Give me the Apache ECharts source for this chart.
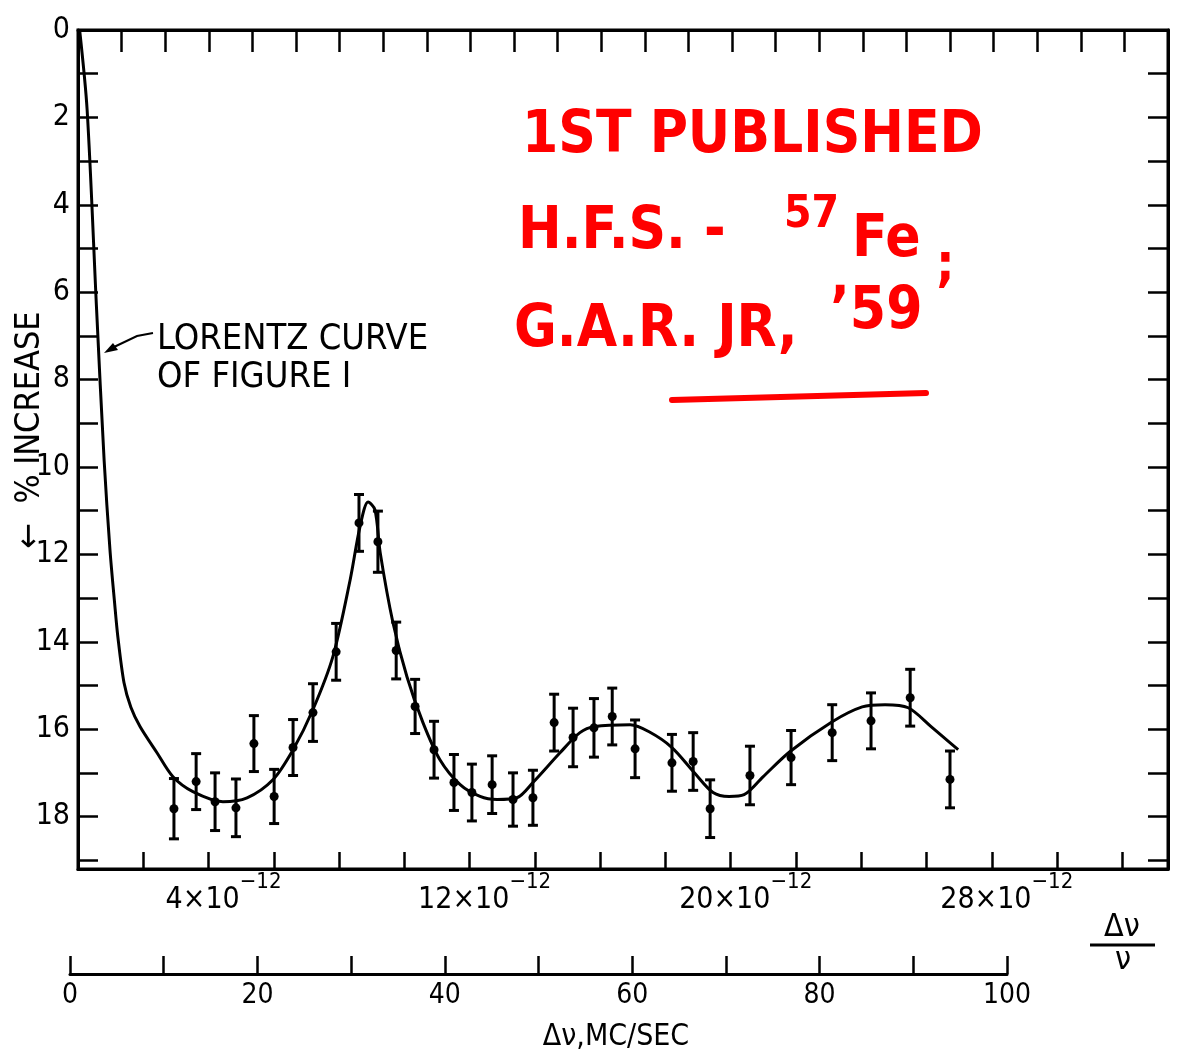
<!DOCTYPE html>
<html lang="en">
<head>
<meta charset="UTF-8">
<title>57Fe hyperfine structure</title>
<style>
  html, body { margin: 0; padding: 0; background: #fff; }
  #main { width: 1178px; height: 1057px; }
</style>
</head>
<body>
<div id="main"></div>

<script src="https://cdn.jsdelivr.net/npm/echarts@6/dist/echarts.min.js"></script>

<script>
// measured points, x in units of 10^-12 (delta nu / nu), y in % increase
var errX = [2.94, 3.62, 4.20, 4.84, 5.39, 6.01, 6.59, 7.20, 7.91, 8.61, 9.19, 9.75, 10.33, 10.91, 11.52, 12.07, 12.69,
            13.33, 13.94, 14.59, 15.17, 15.81, 16.37, 17.07, 18.20, 18.85, 19.37, 20.59, 21.85, 23.11, 24.30, 25.50, 26.72];
var errY = [17.82, 17.20, 17.66, 17.80, 16.33, 17.54, 16.42, 15.62, 14.23, 11.28, 11.71, 14.20, 15.48, 16.47, 17.22, 17.45, 17.27,
            17.61, 17.57, 15.85, 16.19, 15.97, 15.71, 16.45, 16.77, 16.74, 17.82, 17.06, 16.65, 16.08, 15.81, 15.28, 17.15];
var errHalf = [0.69, 0.64, 0.66, 0.66, 0.64, 0.62, 0.64, 0.66, 0.65, 0.65, 0.70, 0.65, 0.62, 0.65, 0.64, 0.65, 0.66,
               0.61, 0.63, 0.65, 0.67, 0.67, 0.65, 0.66, 0.65, 0.66, 0.66, 0.67, 0.62, 0.64, 0.64, 0.65, 0.65];

// fitted curve
var curveX = [0.05, 0.28, 0.57, 0.80, 0.98, 1.12, 1.22, 1.41, 1.62, 1.90, 2.42, 2.91, 3.52, 4.44, 5.18, 5.98, 6.59, 7.20, 7.81,
              8.34, 8.64, 8.89, 9.10, 9.26, 9.65, 10.08, 10.57, 11.09, 11.71, 12.32, 12.84, 13.45, 13.94, 14.77, 15.38,
              15.84, 16.92, 17.50, 18.20, 18.88, 19.46, 19.95, 20.41, 20.99, 21.82, 23.11, 24.03, 24.73, 25.44, 26.14, 26.97];
var curveY = [0.00, 1.83, 6.40, 9.84, 11.90, 13.10, 13.88, 14.94, 15.50, 15.94, 16.54, 17.09, 17.43, 17.66, 17.57, 17.15, 16.47, 15.55, 14.34,
              12.58, 11.37, 10.80, 10.98, 11.96, 13.56, 14.80, 15.85, 16.70, 17.27, 17.54, 17.61, 17.57, 17.22, 16.54, 16.08,
              15.94, 15.90, 16.06, 16.42, 16.99, 17.45, 17.54, 17.50, 17.09, 16.51, 15.83, 15.49, 15.44, 15.51, 15.94, 16.47];

var ratioLabels = [4, 12, 20, 28];      // labelled ticks on the delta nu / nu axis
var mcLabels = [0, 20, 40, 60, 80, 100]; // labelled ticks on the MC/SEC axis

var FONT = "'DejaVu Sans Condensed', 'DejaVu Sans', sans-serif";
var RED = '#ff0000';

var errData = errX.map(function (x, i) { return [x, errY[i], errHalf[i]]; });
var curveData = curveX.map(function (x, i) { return [x, curveY[i]]; });

function renderErrorBar(params, api) {
    var x = api.value(0), y = api.value(1), e = api.value(2);
    var p = api.coord([x, y]);
    var top = api.coord([x, y - e]);
    var bot = api.coord([x, y + e]);
    var cap = 5;
    var st = { stroke: '#000', lineWidth: 3 };
    return {
        type: 'group',
        children: [
            { type: 'line', shape: { x1: p[0], y1: top[1], x2: p[0], y2: bot[1] }, style: st },
            { type: 'line', shape: { x1: p[0] - cap, y1: top[1], x2: p[0] + cap, y2: top[1] }, style: st },
            { type: 'line', shape: { x1: p[0] - cap, y1: bot[1], x2: p[0] + cap, y2: bot[1] }, style: st },
            { type: 'circle', shape: { cx: p[0], cy: p[1], r: 4.5 }, style: { fill: '#000' } }
        ]
    };
}

var axisLine = { show: true, onZero: false, lineStyle: { color: '#000', width: 3 } };

var myChart = echarts.init(document.getElementById('main'));

myChart.setOption({
    animation: false,
    backgroundColor: '#fff',
    grid: [
        { left: 78, top: 30, width: 1090, height: 839, show: true, borderColor: '#000', borderWidth: 3, backgroundColor: 'transparent' },
        { left: 70, top: 973, width: 937, height: 1 }
    ],
    xAxis: [
        {
            gridIndex: 0, type: 'value', position: 'bottom', min: 0, max: 33.4, interval: 2,
            axisLine: axisLine,
            axisTick: { inside: true, length: 17, lineStyle: { color: '#000', width: 2.5 } },
            splitLine: { show: false },
            axisLabel: {
                margin: 2,
                padding: [0, 0, 0, 30],
                formatter: function (v) {
                    return ratioLabels.indexOf(v) >= 0 ? '{b|' + v + '×10}{s|−12}' : '';
                },
                rich: {
                    b: { fontFamily: FONT, fontSize: 30, color: '#000', lineHeight: 44, verticalAlign: 'bottom' },
                    s: { fontFamily: FONT, fontSize: 22, color: '#000', lineHeight: 44, verticalAlign: 'top' }
                }
            }
        },
        {
            gridIndex: 0, type: 'value', position: 'top', min: 0, max: 25, interval: 1,
            axisLine: axisLine,
            axisTick: { inside: true, length: 22, lineStyle: { color: '#000', width: 2.5 } },
            splitLine: { show: false },
            axisLabel: { show: false }
        },
        {
            gridIndex: 1, type: 'value', position: 'bottom', min: 0, max: 100, interval: 10,
            axisLine: axisLine,
            axisTick: { inside: true, length: 18, lineStyle: { color: '#000', width: 2.5 } },
            splitLine: { show: false },
            axisLabel: {
                margin: 8, fontFamily: FONT, fontSize: 28, color: '#000',
                formatter: function (v) { return mcLabels.indexOf(v) >= 0 ? String(v) : ''; }
            }
        }
    ],
    yAxis: [
        {
            gridIndex: 0, type: 'value', inverse: true, position: 'left', min: 0, max: 19.2, interval: 1,
            axisLine: axisLine,
            axisTick: { inside: true, length: 20, lineStyle: { color: '#000', width: 2.5 } },
            splitLine: { show: false },
            axisLabel: {
                margin: 8, fontFamily: FONT, fontSize: 30, color: '#000',
                formatter: function (v) { return (v % 2 === 0 && v <= 18) ? String(v) : ''; }
            }
        },
        {
            gridIndex: 0, type: 'value', inverse: true, position: 'right', min: 0, max: 19.2, interval: 1,
            axisLine: axisLine,
            axisTick: { inside: true, length: 20, lineStyle: { color: '#000', width: 2.5 } },
            splitLine: { show: false },
            axisLabel: { show: false }
        },
        { gridIndex: 1, type: 'value', show: false, min: 0, max: 1 }
    ],
    series: [
        {
            name: 'Lorentz fit', type: 'line', xAxisIndex: 0, yAxisIndex: 0,
            data: curveData, showSymbol: false, smooth: 0.3,
            lineStyle: { color: '#000', width: 3 }, z: 3
        },
        {
            name: 'measured', type: 'custom', xAxisIndex: 0, yAxisIndex: 0,
            renderItem: renderErrorBar, data: errData, encode: { x: 0, y: 1 }, z: 4
        }
    ],
    graphic: [
        { type: 'text', x: 30, y: 430, rotation: Math.PI / 2,
          style: { text: '←  % INCREASE', font: '34px ' + FONT, fill: '#000', align: 'center', verticalAlign: 'middle' } },
        { type: 'text', x: 157, y: 321,
          style: { text: 'LORENTZ CURVE\nOF FIGURE I', font: '36px ' + FONT, lineHeight: 38, fill: '#000' } },
        { type: 'polyline', shape: { points: [[153, 333], [137, 336], [114, 347]] },
          style: { stroke: '#000', lineWidth: 2, fill: null } },
        { type: 'polygon', shape: { points: [[104, 353], [113, 343], [118, 350]] }, style: { fill: '#000' } },

        { type: 'text', x: 1122, y: 912, style: { text: 'Δν', font: '32px ' + FONT, fill: '#000', align: 'center' } },
        { type: 'line', shape: { x1: 1090, y1: 945, x2: 1155, y2: 945 }, style: { stroke: '#000', lineWidth: 3 } },
        { type: 'text', x: 1123, y: 945, style: { text: 'ν', font: '32px ' + FONT, fill: '#000', align: 'center' } },
        { type: 'text', x: 616, y: 1022, style: { text: 'Δν,MC/SEC', font: '30px ' + FONT, fill: '#000', align: 'center' } },

        { type: 'text', x: 522, y: 108, style: { text: '1ST PUBLISHED', font: 'bold 58px ' + FONT, fill: RED } },
        { type: 'text', x: 518, y: 204, style: { text: 'H.F.S. -', font: 'bold 58px ' + FONT, fill: RED } },
        { type: 'text', x: 784, y: 194, style: { text: '57', font: 'bold 44px ' + FONT, fill: RED } },
        { type: 'text', x: 852, y: 212, style: { text: 'Fe', font: 'bold 58px ' + FONT, fill: RED } },
        { type: 'text', x: 936, y: 240, style: { text: ';', font: 'bold 52px ' + FONT, fill: RED } },
        { type: 'text', x: 514, y: 302, style: { text: 'G.A.R. JR,', font: 'bold 58px ' + FONT, fill: RED } },
        { type: 'text', x: 830, y: 284, style: { text: '\u201959', font: 'bold 58px ' + FONT, fill: RED } },
        { type: 'line', shape: { x1: 672, y1: 400, x2: 926, y2: 393 },
          style: { stroke: RED, lineWidth: 6, lineCap: 'round' } }
    ]
});
</script>
</body>
</html>
